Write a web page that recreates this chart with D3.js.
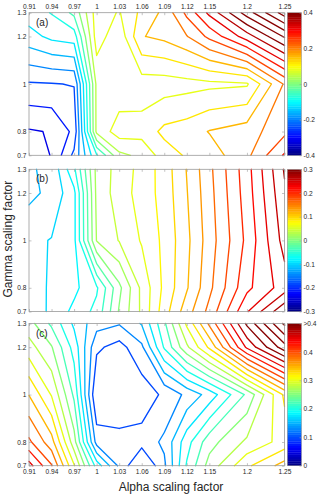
<!DOCTYPE html>
<html>
<head>
<meta charset="utf-8">
<script src="https://cdn.jsdelivr.net/npm/d3@7"></script>
<style>
  body { margin: 0; background: #fff; }
  svg { display: block; font-family: "Liberation Sans", Arial, sans-serif; }
</style>
</head>
<body>
<svg width="320" height="495"></svg>
<script>
// grid of the runs: columns = alpha, rows = gamma (top row first)
const alphaValues = [0.91, 0.94, 0.97, 1.00, 1.03, 1.06, 1.09, 1.12, 1.15, 1.20, 1.25];
const gammaValues = [1.3, 1.2, 1.0, 0.8, 0.7];

const alphaTicks = [0.91, 0.94, 0.97, 1, 1.03, 1.06, 1.09, 1.12, 1.15, 1.2, 1.25];
const gammaTicks = [0.7, 0.8, 1, 1.2, 1.3];

// (a)
const fieldA = [
  [-0.10, -0.078, -0.03, 0.10, 0.077, 0.13, 0.17, 0.25, 0.33, 0.46, 0.58],
  [-0.135, -0.11, -0.10, 0.10, 0.052, 0.158, 0.17, 0.198, 0.25, 0.34, 0.445],
  [-0.244, -0.242, -0.238, 0.05, 0.052, 0.06, 0.06, 0.065, 0.07, 0.075, 0.205],
  [-0.324, -0.3175, -0.27, 0.05, 0.10, 0.095, 0.13, 0.14, 0.162, 0.18, 0.23],
  [-0.345, -0.318, -0.23, -0.085, 0.03, 0.05, 0.10, 0.125, 0.14, 0.19, 0.285]
];
// (b)
const fieldB = [
  [-0.122, -0.116, -0.064, 0.026, 0.048, 0.067, 0.089, 0.121, 0.155, 0.212, 0.282],
  [-0.125, -0.115, -0.085, 0.025, 0.05, 0.068, 0.088, 0.119, 0.153, 0.21, 0.277],
  [-0.105, -0.099, -0.085, 0.021, 0.041, 0.062, 0.085, 0.115, 0.15, 0.205, 0.268],
  [-0.11, -0.097, -0.085, -0.063, -0.005, 0.045, 0.085, 0.118, 0.155, 0.215, 0.25],
  [-0.116, -0.095, -0.075, -0.054, 0.002, 0.044, 0.091, 0.131, 0.166, 0.238, 0.297]
];
// (c)
const fieldC = [
  [0.26, 0.22, 0.17, 0.135, 0.127, 0.152, 0.22, 0.305, 0.38, 0.505, 0.605],
  [0.285, 0.252, 0.19, 0.105, 0.09, 0.12, 0.203, 0.27, 0.33, 0.455, 0.54],
  [0.349, 0.298, 0.22, 0.074, 0.08, 0.085, 0.105, 0.131, 0.16, 0.23, 0.33],
  [0.405, 0.36, 0.26, 0.115, 0.108, 0.11, 0.13, 0.19, 0.24, 0.28, 0.31],
  [0.46, 0.402, 0.302, 0.19, 0.12, 0.07, 0.12, 0.203, 0.26, 0.32, 0.36]
];

const colorTicksA = [-0.4, -0.2, 0, 0.2, 0.4];
const colorTicksB = [-0.3, -0.2, -0.1, 0, 0.1, 0.2, 0.3];
const colorTicksC = [0, 0.1, 0.2, 0.3, 0.4, 0.5];
const colorLabelsC = ["0", "0.1", "0.2", "0.3", "0.4", ">0.4"];

// contour levels: first level, step, count
const levelsA = d3.range(24).map(k => +(-0.36 + k * 0.04).toFixed(3));
const levelsB = d3.range(23).map(k => +(-0.14 + k * 0.02).toFixed(3));
const levelsC = d3.range(21).map(k => +(0.1 + k * 0.025).toFixed(3));

const panels = [
  { name: "(a)", field: fieldA, levels: levelsA, cdom: [-0.4, 0.4], cticks: colorTicksA, clabels: null, top: 12.7, bottom: 155.3 },
  { name: "(b)", field: fieldB, levels: levelsB, cdom: [-0.3, 0.3], cticks: colorTicksB, clabels: null, top: 169.3, bottom: 311.5 },
  { name: "(c)", field: fieldC, levels: levelsC, cdom: [0, 0.5], cticks: colorTicksC, clabels: colorLabelsC, top: 323.5, bottom: 465.7 }
];

const left = 29, right = 284.5;
const cbLeft = 287.3, cbRight = 301.5;
const axisColor = "#9a9a9a";
const textColor = "#262626";

function jet(t) {
  t = Math.max(0, Math.min(1, t));
  const f = v => Math.round(255 * Math.max(0, Math.min(1, v)));
  return d3.rgb(f(1.5 - Math.abs(4 * t - 3)), f(1.5 - Math.abs(4 * t - 2)), f(1.5 - Math.abs(4 * t - 1))).toString();
}

// 64 colour map like matlab
function mapColor(v, dom) {
  let i = Math.floor((v - dom[0]) / (dom[1] - dom[0]) * 64);
  i = Math.max(0, Math.min(63, i));
  return jet((i + 0.5) / 64);
}

// marching squares on the grid, linear interpolation along cell edges
function contourSegments(z, xs, ys, level) {
  const segs = [];
  for (let r = 0; r < ys.length - 1; r++) {
    for (let c = 0; c < xs.length - 1; c++) {
      const q = [
        [xs[c], ys[r], z[r][c]],
        [xs[c + 1], ys[r], z[r][c + 1]],
        [xs[c + 1], ys[r + 1], z[r + 1][c + 1]],
        [xs[c], ys[r + 1], z[r + 1][c]]
      ];
      const pts = [];
      for (let k = 0; k < 4; k++) {
        const a = q[k], b = q[(k + 1) % 4];
        if ((a[2] < level) !== (b[2] < level)) {
          const t = (level - a[2]) / (b[2] - a[2]);
          pts.push([a[0] + t * (b[0] - a[0]), a[1] + t * (b[1] - a[1])]);
        }
      }
      if (pts.length === 2) {
        segs.push(pts);
      } else if (pts.length === 4) {
        const mid = (q[0][2] + q[1][2] + q[2][2] + q[3][2]) / 4;
        if ((mid < level) === (q[0][2] < level)) {
          segs.push([pts[0], pts[1]], [pts[2], pts[3]]);
        } else {
          segs.push([pts[3], pts[0]], [pts[1], pts[2]]);
        }
      }
    }
  }
  return segs;
}

const svg = d3.select("svg");
const x = d3.scaleLinear().domain([0.91, 1.25]).range([left, right]);

panels.forEach((p, pi) => {
  const y = d3.scaleLinear().domain([0.7, 1.3]).range([p.bottom, p.top]);
  const g = svg.append("g");

  const line = d3.line().x(d => x(d[0])).y(d => y(d[1]));

  p.levels.forEach(level => {
    const segs = contourSegments(p.field, alphaValues, gammaValues, level);
    if (!segs.length) return;
    g.append("path")
      .attr("d", segs.map(s => line(s)).join(""))
      .attr("fill", "none")
      .attr("stroke", mapColor(level, p.cdom))
      .attr("stroke-width", 1.35)
      .attr("stroke-linecap", "round")
      .attr("stroke-linejoin", "round");
  });

  // axes with inward ticks
  const fmt = d => String(d);
  const styleAxis = sel => {
    sel.select(".domain").remove();
    sel.selectAll(".tick line").attr("stroke", axisColor).attr("stroke-width", 0.6);
    sel.selectAll(".tick text").attr("fill", textColor).style("font-size", "6.6px");
  };
  g.append("g").attr("transform", `translate(0,${p.bottom})`)
    .call(d3.axisBottom(x).tickValues(alphaTicks).tickSizeInner(-2.5).tickSizeOuter(0).tickPadding(3.2)
      .tickFormat(pi === 2 ? fmt : ""))
    .call(styleAxis);
  g.append("g").attr("transform", `translate(0,${p.top})`)
    .call(d3.axisTop(x).tickValues(alphaTicks).tickSizeInner(-2.5).tickSizeOuter(0).tickPadding(4)
      .tickFormat(pi === 0 ? fmt : ""))
    .call(styleAxis);
  g.append("g").attr("transform", `translate(${left},0)`)
    .call(d3.axisLeft(y).tickValues(gammaTicks).tickSizeInner(-2.5).tickSizeOuter(0).tickPadding(2.5).tickFormat(fmt))
    .call(styleAxis);
  g.append("g").attr("transform", `translate(${right},0)`)
    .call(d3.axisRight(y).tickValues(gammaTicks).tickSizeInner(-2.5).tickSizeOuter(0).tickFormat(""))
    .call(styleAxis);

  g.append("rect")
    .attr("x", left).attr("y", p.top)
    .attr("width", right - left).attr("height", p.bottom - p.top)
    .attr("fill", "none").attr("stroke", axisColor).attr("stroke-width", 0.8);

  g.append("text")
    .attr("x", left + 7).attr("y", p.top + 13)
    .attr("fill", textColor)
    .style("font-size", "10px")
    .text(p.name);

  // colour bar
  const cy = d3.scaleLinear().domain(p.cdom).range([p.bottom, p.top]);
  const bands = d3.range(64);
  const bh = (p.bottom - p.top) / 64;
  g.append("g").selectAll("rect").data(bands).join("rect")
    .attr("x", cbLeft)
    .attr("y", i => p.bottom - (i + 1) * bh)
    .attr("width", cbRight - cbLeft)
    .attr("height", bh + 0.3)
    .attr("fill", i => jet((i + 0.5) / 64));
  g.append("rect")
    .attr("x", cbLeft).attr("y", p.top)
    .attr("width", cbRight - cbLeft).attr("height", p.bottom - p.top)
    .attr("fill", "none").attr("stroke", axisColor).attr("stroke-width", 0.6);
  g.append("g").attr("transform", `translate(${cbRight},0)`)
    .call(d3.axisRight(cy).tickValues(p.cticks).tickSizeInner(-2).tickSizeOuter(0).tickPadding(2)
      .tickFormat((d, i) => p.clabels ? p.clabels[i] : fmt(d)))
    .call(styleAxis);
});

svg.append("text")
  .attr("transform", `translate(12,${(12.7 + 465.7) / 2}) rotate(-90)`)
  .attr("text-anchor", "middle")
  .attr("fill", textColor)
  .style("font-size", "12px")
  .text("Gamma scaling factor");

svg.append("text")
  .attr("x", 171).attr("y", 491)
  .attr("text-anchor", "middle")
  .attr("fill", textColor)
  .style("font-size", "12px")
  .text("Alpha scaling factor");
</script>
</body>
</html>
